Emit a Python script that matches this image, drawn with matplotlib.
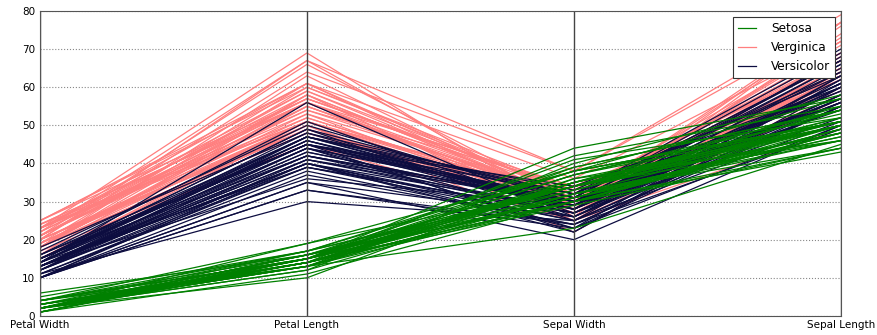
import matplotlib
matplotlib.use("Agg")
import matplotlib.pyplot as plt
import numpy as np

# columns shown on the x axis (values in mm)
columns = ["Petal Width", "Petal Length", "Sepal Width", "Sepal Length"]

# ---------------- DATA ----------------
setosa_pw = [2, 2, 2, 2, 2, 4, 3, 2, 2, 1, 2, 2, 1, 1, 2, 4, 4, 3, 3, 3, 2, 4, 2, 5, 2,
             2, 4, 2, 2, 2, 2, 4, 1, 2, 1, 2, 2, 1, 2, 2, 3, 3, 2, 6, 4, 3, 2, 2, 2, 2]
setosa_pl = [14, 14, 13, 15, 14, 17, 14, 15, 14, 15, 15, 16, 14, 11, 12, 15, 13, 14, 17, 15, 17, 15, 10, 17, 19,
             16, 16, 15, 14, 16, 16, 15, 15, 14, 15, 12, 13, 15, 13, 15, 13, 13, 13, 16, 19, 14, 16, 14, 15, 14]
setosa_sw = [35, 30, 32, 31, 36, 39, 34, 34, 29, 31, 37, 34, 30, 30, 40, 44, 39, 35, 38, 38, 34, 37, 36, 33, 34,
             30, 34, 35, 34, 32, 31, 34, 41, 42, 31, 32, 35, 31, 30, 34, 35, 23, 32, 35, 38, 30, 38, 32, 37, 33]
setosa_sl = [51, 49, 47, 46, 50, 54, 46, 50, 44, 49, 54, 48, 48, 43, 58, 57, 54, 51, 57, 51, 54, 51, 46, 51, 48,
             50, 50, 52, 52, 47, 48, 54, 52, 55, 49, 50, 55, 49, 44, 51, 50, 45, 44, 50, 51, 48, 51, 46, 53, 50]

virginica_pw = [25, 19, 21, 18, 22, 21, 17, 18, 18, 25, 20, 19, 21, 20, 24, 23, 18, 22, 23, 15, 23, 20, 20, 18, 21,
                18, 18, 18, 21, 16, 19, 20, 22, 15, 23, 24, 18, 18, 21, 24, 23, 19, 23, 25, 23, 19, 20, 23, 18]
virginica_pl = [60, 51, 59, 56, 58, 66, 45, 63, 58, 61, 51, 53, 55, 50, 51, 53, 55, 67, 69, 50, 57, 49, 67, 49, 57,
                60, 48, 49, 56, 58, 61, 64, 56, 51, 61, 56, 55, 48, 54, 56, 51, 51, 59, 57, 52, 50, 52, 54, 51]
virginica_sw = [33, 27, 30, 29, 30, 30, 25, 29, 25, 36, 32, 27, 30, 25, 28, 32, 30, 38, 26, 22, 32, 28, 28, 27, 33,
                32, 28, 30, 28, 30, 28, 38, 28, 28, 30, 34, 31, 30, 31, 31, 31, 27, 32, 33, 30, 25, 30, 34, 30]
virginica_sl = [63, 58, 71, 63, 65, 76, 49, 73, 67, 72, 65, 64, 68, 57, 58, 64, 65, 77, 77, 60, 69, 56, 77, 63, 67,
                72, 62, 61, 64, 72, 74, 79, 64, 63, 77, 63, 64, 60, 69, 67, 69, 58, 68, 67, 67, 63, 65, 62, 59]

versicolor_pw = [14, 15, 15, 13, 15, 13, 16, 10, 13, 14, 10, 15, 10, 14, 13, 14, 15, 10, 15, 11, 18, 13, 15, 12, 13,
                 14, 14, 17, 15, 10, 11, 10, 12, 16, 15, 16, 15, 13, 13, 13, 12, 14, 12, 10, 13, 12, 13, 13, 11, 13, 14]
versicolor_pl = [47, 45, 49, 40, 46, 45, 47, 33, 46, 39, 35, 42, 40, 47, 36, 44, 45, 41, 45, 39, 48, 40, 49, 47, 43,
                 44, 48, 50, 45, 35, 38, 37, 39, 51, 45, 45, 47, 44, 41, 40, 44, 46, 40, 33, 42, 42, 42, 43, 30, 41, 56]
versicolor_sw = [32, 32, 31, 23, 28, 28, 33, 24, 29, 27, 20, 30, 22, 29, 29, 31, 30, 27, 22, 25, 32, 28, 25, 28, 29,
                 30, 28, 30, 29, 26, 24, 24, 27, 27, 30, 34, 31, 23, 30, 25, 26, 30, 26, 23, 27, 30, 29, 29, 25, 28, 26]
versicolor_sl = [70, 64, 69, 55, 65, 57, 63, 49, 66, 52, 50, 59, 60, 61, 56, 67, 56, 58, 62, 56, 59, 61, 63, 61, 64,
                 66, 68, 67, 60, 57, 55, 55, 58, 60, 54, 60, 67, 63, 56, 55, 55, 61, 58, 50, 56, 57, 57, 62, 51, 57, 61]

class_names = ["Setosa", "Verginica", "Versicolor"]
class_colors = ["#008000", "#ff7f7f", "#0d0d40"]
# --------------------------------------

groups = {
    "Setosa": [setosa_pw, setosa_pl, setosa_sw, setosa_sl],
    "Verginica": [virginica_pw, virginica_pl, virginica_sw, virginica_sl],
    "Versicolor": [versicolor_pw, versicolor_pl, versicolor_sw, versicolor_sl],
}
# drawing order (which class ends up on top)
z_order = {"Verginica": 2, "Versicolor": 3, "Setosa": 4}

fig = plt.figure(figsize=(8.78, 3.35), dpi=100)
ax = fig.add_axes([0.0456, 0.057, 0.912, 0.91])

x = np.arange(len(columns))
for name, color in zip(class_names, class_colors):
    rows = np.array(groups[name]).T
    for i, row in enumerate(rows):
        ax.plot(x, row, color=color, lw=0.9, zorder=z_order[name],
                label=name if i == 0 else None)

for xi in x:
    ax.axvline(xi, color="#444444", lw=1.0, zorder=5)

ax.set_xticks(x)
ax.set_xticklabels(columns, fontsize=7.5)
ax.set_xlim(x[0], x[-1])
ax.set_ylim(0, 80)
ax.set_yticks(np.arange(0, 81, 10))
ax.tick_params(axis="y", labelsize=7.5, direction="in", length=0, pad=3.5)
ax.tick_params(axis="x", length=0, pad=3)
ax.yaxis.grid(True, linestyle=":", color="#888888", lw=0.8)
ax.set_axisbelow(True)
for sp in ax.spines.values():
    sp.set_color("#555555")
    sp.set_zorder(6)

leg = ax.legend(loc="upper right", fontsize=8.7, fancybox=False, framealpha=1,
                edgecolor="#333333", handlelength=1.5, handletextpad=1.2,
                borderaxespad=0.5)
leg.get_frame().set_linewidth(0.8)
leg.set_zorder(10)

fig.savefig("out.png", dpi=100)
